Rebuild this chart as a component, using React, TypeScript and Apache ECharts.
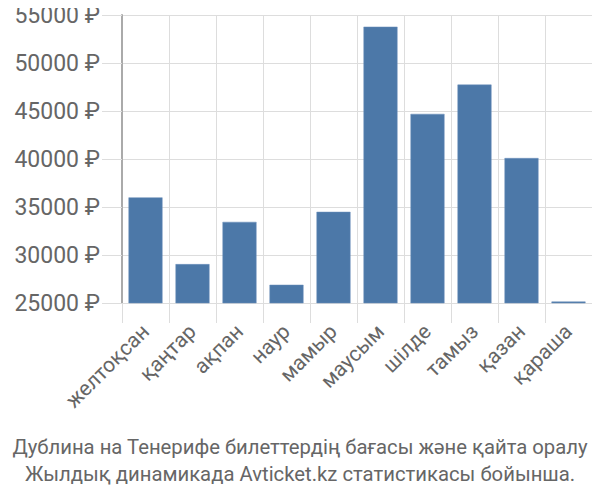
import React, { useEffect, useRef } from "react";
import * as echarts from "echarts";

const categories = ["желтоқсан", "қаңтар", "ақпан", "наур", "мамыр", "маусым", "шілде", "тамыз", "қазан", "қараша"];
const prices = [36000, 29050, 33450, 26900, 34500, 53780, 44700, 47750, 40100, 25150];
const yTicks = { min: 25000, max: 55000, interval: 5000 };
const captionLines = [
  "Дублина на Тенерифе билеттердің бағасы және қайта оралу",
  "Жылдық динамикада Avticket.kz статистикасы бойынша.",
];

export default function App() {
  const ref = useRef<HTMLDivElement>(null);
  useEffect(() => {
    if (!ref.current) return;
    const chart = echarts.init(ref.current, null, { renderer: "svg" });
    chart.setOption({
      animation: false,
      grid: { left: 122, right: 8, top: 15, bottom: 197, containLabel: false },
      graphic: captionLines.map((line, i) => ({
        type: "text",
        x: 300,
        y: 447 + i * 27,
        style: {
          text: line,
          textAlign: "center",
          textVerticalAlign: "middle",
          fontFamily: "Roboto, sans-serif",
          fontSize: 20.3,
          fill: "#666",
        },
      })),
      xAxis: {
        type: "category",
        data: categories,
        boundaryGap: true,
        axisLine: { show: true, lineStyle: { color: "#ddd", width: 1 } },
        axisTick: { show: true, length: 20, lineStyle: { color: "#ddd" } },
        splitLine: { show: true, lineStyle: { color: "#ddd" } },
        axisLabel: {
          rotate: 45,
          margin: 25,
          fontSize: 21,
          color: "#666",
          fontFamily: "Roboto, sans-serif",
        },
      },
      yAxis: {
        type: "value",
        min: yTicks.min,
        max: yTicks.max,
        interval: yTicks.interval,
        axisLine: { show: true, lineStyle: { color: "#aaa", width: 2 } },
        axisTick: { show: true, length: 20, lineStyle: { color: "#ddd" } },
        splitLine: { show: true, lineStyle: { color: "#ddd" } },
        axisLabel: {
          formatter: (v: number) => `${v} ₽`,
          margin: 22,
          fontSize: 23,
          color: "#666",
          fontFamily: "Roboto, sans-serif",
        },
      },
      series: [
        {
          type: "bar",
          data: prices,
          barWidth: 34,
          itemStyle: { color: "#4c78a8", borderColor: "#6a8fbb", borderWidth: 0.5 },
        },
      ],
    });
    return () => chart.dispose();
  }, []);
  return <div ref={ref} style={{ width: 600, height: 500, margin: -8 }} />;
}
